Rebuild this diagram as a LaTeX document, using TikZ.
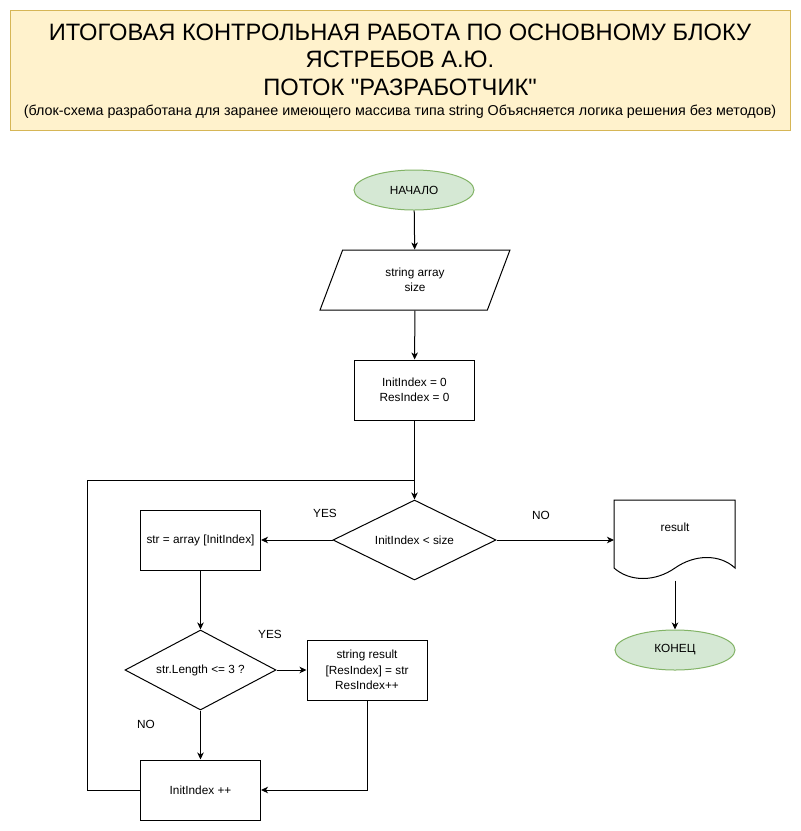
\documentclass[tikz,border=0pt]{standalone}
\usepackage{fontspec}
\newfontfamily\arialfam{Liberation Sans}
\usetikzlibrary{shapes.geometric, arrows.meta, positioning, calc}
\definecolor{hdrfill}{HTML}{FFF2CC}
\definecolor{hdrline}{HTML}{D6B656}
\definecolor{termfill}{HTML}{D5E8D4}
\definecolor{termline}{HTML}{82B366}
\newcommand\blkfont{\arialfam\fontsize{11.8}{15.5}\selectfont}
\newcommand\ttlfont{\arialfam\fontsize{23.7}{27.5}\selectfont}
\newcommand\notefont{\arialfam\fontsize{14.3}{16}\selectfont}
\tikzset{
  hdr/.style={rectangle, draw=hdrline, fill=hdrfill, minimum width=780, minimum height=120},
  term/.style={ellipse, draw=termline, fill=termfill, minimum width=120, minimum height=40,
               inner sep=0pt, font=\blkfont},
  io/.style={trapezium, trapezium left angle=71.6, trapezium right angle=108.4,
             trapezium stretches=true, draw, minimum width=190, minimum height=60,
             align=center, font=\blkfont},
  proc/.style={rectangle, draw, minimum width=120, minimum height=60, inner sep=2pt,
               align=center, font=\blkfont},
  cond/.style={diamond, draw, minimum width=163, minimum height=80, inner sep=0pt,
               label={[font=\blkfont]center:#1}},
  docbox/.style={rectangle, minimum width=121, minimum height=80, inner sep=0pt},
  lbl/.style={font=\blkfont, inner sep=1pt},
  arr/.style={-{Stealth[length=7pt, width=6.5pt, inset=2pt]}},
}
\begin{document}
\begin{tikzpicture}[x=1pt, y=-1pt, line width=1pt]
\useasboundingbox (0,0) rectangle (801,831);
% Шапка
\node[hdr] (hdr) at (400,70) {};
\node[align=center, font=\ttlfont, inner sep=0pt] (title) at (400,59.5)
  {ИТОГОВАЯ КОНТРОЛЬНАЯ РАБОТА ПО ОСНОВНОМУ БЛОКУ\\ЯСТРЕБОВ А.Ю.\\ПОТОК "РАЗРАБОТЧИК"};
\node[font=\notefont, inner sep=0pt] (note) at (400,112)
  {(блок-схема разработана для заранее имеющего массива типа string Объясняется логика решения без методов)};

% Блоки
\node[term] (start) at (414,190) {НАЧАЛО};
\node[io] (input) at (415,280) {string array\\size};
\node[proc] (init) at (414.5,390) {InitIndex = 0\\ResIndex = 0};
\node[cond={InitIndex < size}] (check) at (414.5,540) {};
\node[proc] (take) at (200.5,540) {str = array [InitIndex]};
\node[docbox] (res) at (675,540) {};
\node[lbl] (restxt) at (675,527) {result};
\node[term] (stop) at (675,650) {КОНЕЦ};
\node[cond={str.Length <= 3 ?}, minimum width=151] (len) at (200.5,670) {};
\node[proc] (save) at (367,670) {string result\\{[ResIndex] = str}\\ResIndex++};
\node[proc] (inc) at (200.5,790) {InitIndex ++};
\coordinate (loop) at (87,480);

% Документ с волной
\draw (614,500) -- (735,500) -- (735,568) .. controls (720,554) and (695,554) .. (675,568)
  .. controls (655,582) and (630,582) .. (614,568) -- cycle;

% Подписи ветвлений
\node[lbl] (yes1) at (325,513) {YES};
\node[lbl] (no1) at (541,515) {NO};
\node[lbl] (yes2) at (270,634) {YES};
\node[lbl] (no2) at (146,724) {NO};

% Связи
\draw[arr] (start) -- (input);
\draw[arr] (input) -- (init);
\draw[arr] (init) -- (check);
\draw[arr] (check) -- (take);
\draw[arr] (check) -- (res);
\draw[arr] (res) -- (stop);
\draw[arr] (take) -- (len);
\draw[arr] (len) -- (save);
\draw[arr] (len) -- (inc);
\draw[arr] (save.south) |- (inc.east);
% Возврат цикла
\draw (inc.west) -| (loop) -- (init.south |- loop);
\end{tikzpicture}
\end{document}
